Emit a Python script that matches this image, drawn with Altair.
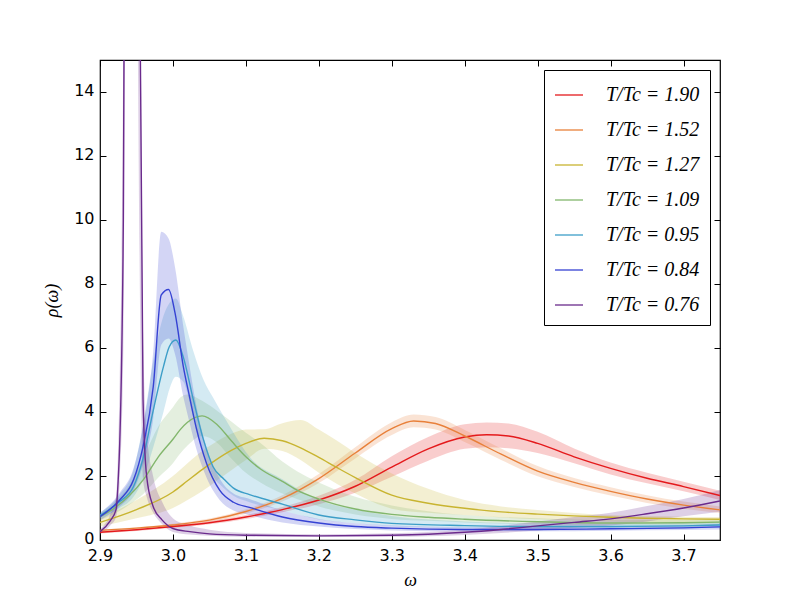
import altair as alt
import pandas as pd

labels = ["T/Tc = 1.90", "T/Tc = 1.52", "T/Tc = 1.27", "T/Tc = 1.09",
          "T/Tc = 0.95", "T/Tc = 0.84", "T/Tc = 0.76"]
colors = ["#e41a1c", "#e8803a", "#c8b430", "#82b66c", "#3d9ec8", "#3542d3", "#6a2a8c"]

x_ticks = [2.9, 3.0, 3.1, 3.2, 3.3, 3.4, 3.5, 3.6, 3.7]
y_ticks = [0, 2, 4, 6, 8, 10, 12, 14]

# T/Tc = 1.90
w_190 = [2.90, 2.95, 3.00, 3.05, 3.10, 3.15, 3.20, 3.25, 3.30, 3.35, 3.40, 3.43, 3.46, 3.50, 3.55, 3.60, 3.65, 3.70, 3.75]
m_190 = [0.24, 0.32, 0.42, 0.54, 0.72, 0.95, 1.25, 1.68, 2.28, 2.85, 3.22, 3.29, 3.25, 3.02, 2.60, 2.24, 1.93, 1.67, 1.39]
lo_190 = [0.20, 0.28, 0.38, 0.49, 0.66, 0.87, 1.12, 1.48, 1.98, 2.48, 2.85, 2.90, 2.87, 2.72, 2.40, 2.05, 1.77, 1.52, 1.25]
hi_190 = [0.28, 0.36, 0.46, 0.59, 0.78, 1.03, 1.38, 1.88, 2.62, 3.22, 3.62, 3.67, 3.64, 3.38, 2.86, 2.42, 2.10, 1.82, 1.54]

# T/Tc = 1.52
w_152 = [2.90, 2.95, 3.00, 3.05, 3.10, 3.15, 3.20, 3.25, 3.30, 3.33, 3.36, 3.40, 3.45, 3.50, 3.55, 3.60, 3.65, 3.70, 3.75]
m_152 = [0.30, 0.37, 0.47, 0.62, 0.89, 1.30, 1.92, 2.72, 3.48, 3.72, 3.64, 3.25, 2.68, 2.15, 1.80, 1.52, 1.28, 1.09, 0.94]
lo_152 = [0.27, 0.34, 0.43, 0.57, 0.82, 1.20, 1.78, 2.55, 3.28, 3.52, 3.45, 3.06, 2.50, 1.99, 1.66, 1.39, 1.16, 0.98, 0.84]
hi_152 = [0.33, 0.40, 0.51, 0.67, 0.96, 1.40, 2.06, 2.90, 3.68, 3.92, 3.84, 3.44, 2.86, 2.31, 1.94, 1.65, 1.40, 1.20, 1.05]

# T/Tc = 1.27
w_127 = [2.90, 2.95, 3.00, 3.02, 3.04, 3.06, 3.08, 3.10, 3.125, 3.15, 3.175, 3.20, 3.225, 3.25, 3.30, 3.35, 3.40, 3.45, 3.50, 3.60, 3.70, 3.75]
m_127 = [0.55, 0.95, 1.50, 1.85, 2.20, 2.52, 2.80, 3.02, 3.18, 3.10, 2.88, 2.58, 2.26, 1.95, 1.40, 1.15, 0.99, 0.88, 0.81, 0.71, 0.66, 0.65]
lo_127 = [0.42, 0.68, 1.00, 1.25, 1.52, 1.85, 2.18, 2.50, 2.85, 2.78, 2.50, 2.10, 1.75, 1.45, 0.98, 0.85, 0.78, 0.70, 0.65, 0.58, 0.55, 0.55]
hi_127 = [0.68, 1.25, 2.00, 2.40, 2.78, 3.08, 3.32, 3.45, 3.46, 3.65, 3.75, 3.45, 3.10, 2.72, 2.08, 1.60, 1.25, 1.05, 0.94, 0.78, 0.73, 0.72]

# T/Tc = 1.09
w_109 = [2.90, 2.92, 2.94, 2.96, 2.98, 3.00, 3.01, 3.02, 3.04, 3.06, 3.08, 3.10, 3.12, 3.15, 3.17, 3.20, 3.25, 3.30, 3.35, 3.40, 3.50, 3.60, 3.70, 3.75]
m_109 = [0.72, 1.00, 1.38, 1.90, 2.60, 3.15, 3.45, 3.68, 3.88, 3.62, 3.10, 2.60, 2.22, 1.83, 1.56, 1.28, 0.97, 0.80, 0.71, 0.65, 0.57, 0.53, 0.54, 0.56]
lo_109 = [0.62, 0.82, 1.10, 1.45, 1.95, 2.40, 2.70, 2.95, 3.25, 3.05, 2.55, 2.10, 1.80, 1.45, 1.28, 1.05, 0.80, 0.66, 0.60, 0.55, 0.49, 0.46, 0.46, 0.47]
hi_109 = [0.82, 1.18, 1.70, 2.60, 3.55, 4.15, 4.45, 4.55, 4.35, 4.05, 3.70, 3.35, 3.03, 2.45, 2.15, 1.80, 1.35, 1.08, 0.90, 0.78, 0.68, 0.62, 0.63, 0.66]

# T/Tc = 0.95
w_095 = [2.90, 2.927, 2.946, 2.959, 2.973, 2.987, 2.995, 3.004, 3.014, 3.028, 3.042, 3.055, 3.07, 3.083, 3.105, 3.15, 3.20, 3.25, 3.30, 3.40, 3.50, 3.60, 3.70, 3.75]
m_095 = [0.77, 1.20, 1.67, 2.55, 4.05, 5.42, 6.04, 6.25, 5.73, 4.38, 3.12, 2.29, 1.90, 1.62, 1.42, 1.12, 0.78, 0.63, 0.52, 0.45, 0.42, 0.42, 0.44, 0.47]
lo_095 = [0.68, 1.00, 1.35, 1.90, 2.90, 4.00, 4.70, 5.10, 4.95, 3.85, 2.75, 2.00, 1.62, 1.38, 1.18, 0.92, 0.64, 0.52, 0.44, 0.38, 0.36, 0.36, 0.37, 0.39]
hi_095 = [0.86, 1.42, 2.20, 3.60, 5.60, 7.00, 7.40, 7.55, 7.00, 5.90, 5.00, 4.45, 3.85, 3.35, 2.60, 1.90, 1.25, 0.95, 0.75, 0.58, 0.52, 0.51, 0.54, 0.58]

# T/Tc = 0.84
w_084 = [2.90, 2.927, 2.946, 2.959, 2.973, 2.984, 2.994, 3.003, 3.014, 3.023, 3.032, 3.046, 3.064, 3.083, 3.105, 3.15, 3.20, 3.25, 3.30, 3.40, 3.50, 3.60, 3.70, 3.75]
m_084 = [0.73, 1.25, 1.88, 2.92, 4.79, 7.66, 7.83, 7.08, 5.45, 4.45, 3.50, 2.40, 1.56, 1.18, 1.02, 0.72, 0.53, 0.42, 0.37, 0.33, 0.33, 0.35, 0.38, 0.41]
lo_084 = [0.62, 1.05, 1.55, 2.35, 3.80, 6.10, 6.30, 5.80, 4.50, 3.65, 2.85, 1.95, 1.25, 0.92, 0.78, 0.55, 0.42, 0.34, 0.30, 0.27, 0.27, 0.29, 0.31, 0.33]
hi_084 = [0.84, 1.48, 2.25, 3.55, 5.90, 9.63, 9.42, 8.50, 6.70, 5.40, 4.20, 2.90, 1.92, 1.45, 1.28, 0.92, 0.66, 0.52, 0.45, 0.40, 0.40, 0.42, 0.46, 0.50]

# T/Tc = 0.76
w_076 = [2.900, 2.914, 2.922, 2.925, 2.927, 2.932, 2.937, 2.945, 2.952, 2.959, 2.964, 2.973, 2.985, 3.000, 3.023, 3.05, 3.10, 3.20, 3.30, 3.35, 3.40, 3.45, 3.50, 3.55, 3.60, 3.65, 3.70, 3.75]
m_076 = [0.26, 0.60, 0.95, 1.90, 3.00, 10.0, 40.0, 60.0, 25.0, 4.40, 1.98, 1.04, 0.63, 0.36, 0.26, 0.19, 0.15, 0.13, 0.15, 0.18, 0.24, 0.33, 0.44, 0.55, 0.66, 0.82, 1.00, 1.22]
lo_076 = [0.18, 0.45, 0.72, 1.20, 1.80, 6.0, 30.0, 45.0, 15.0, 1.90, 1.35, 0.85, 0.50, 0.25, 0.17, 0.13, 0.10, 0.09, 0.10, 0.12, 0.16, 0.22, 0.30, 0.38, 0.45, 0.58, 0.74, 0.88]
hi_076 = [0.34, 0.80, 1.35, 3.00, 5.00, 16.0, 50.0, 75.0, 35.0, 6.50, 3.40, 1.98, 1.20, 0.68, 0.45, 0.32, 0.22, 0.18, 0.21, 0.25, 0.32, 0.44, 0.58, 0.72, 0.85, 1.06, 1.28, 1.56]

series = [
    (labels[0], w_190, m_190, lo_190, hi_190),
    (labels[1], w_152, m_152, lo_152, hi_152),
    (labels[2], w_127, m_127, lo_127, hi_127),
    (labels[3], w_109, m_109, lo_109, hi_109),
    (labels[4], w_095, m_095, lo_095, hi_095),
    (labels[5], w_084, m_084, lo_084, hi_084),
    (labels[6], w_076, m_076, lo_076, hi_076),
]
rows = []
for k, (lab, ws, ms, ls, hs) in enumerate(series):
    for w, m, l, h in zip(ws, ms, ls, hs):
        rows.append({"series": lab, "order": k, "w": w, "m": m, "lo": l, "hi": h})
df = pd.DataFrame(rows)

xs = alt.Scale(domain=[2.9, 3.75], nice=False, zero=False)
ys = alt.Scale(domain=[0, 15], nice=False)
cs = alt.Scale(domain=labels, range=colors)

legend = alt.Legend(
    title=None, orient="top-right", offset=10,
    strokeColor="black", fillColor="white", padding=10,
    symbolType="stroke", symbolSize=784, symbolStrokeWidth=1.3,
    symbolOpacity=1, rowPadding=10, labelFont="Liberation Serif",
    labelFontStyle="italic", labelFontSize=20, labelColor="black",
    labelOffset=22, cornerRadius=0)

base = alt.Chart(df)

bands = base.mark_area(opacity=0.22, clip=True, interpolate="monotone").encode(
    x=alt.X("w:Q", scale=xs, axis=None),
    y=alt.Y("lo:Q", scale=ys, axis=None),
    y2="hi:Q",
    color=alt.Color("series:N", scale=cs, legend=legend),
)

lines = base.mark_line(strokeWidth=1.4, clip=True, interpolate="monotone").encode(
    x=alt.X("w:Q", scale=xs, axis=alt.Axis(
        orient="bottom", values=x_ticks, format=".1f", title="ω",
        offset=-6, tickSize=6, domain=False, grid=False, labelFlush=False,
        labelOverlap=False, labelFont="DejaVu Sans", labelFontSize=16,
        labelColor="black", tickColor="black", labelPadding=7,
        titleFont="Liberation Serif", titleFontStyle="italic",
        titleFontSize=18, titleFontWeight="normal", titleColor="black",
        titlePadding=8)),
    y=alt.Y("m:Q", scale=ys, axis=alt.Axis(
        orient="left", values=y_ticks, format="d", title="ρ(ω)",
        offset=-6, tickSize=6, domain=False, grid=False,
        labelOverlap=False, labelFont="DejaVu Sans", labelFontSize=16,
        labelColor="black", tickColor="black", labelPadding=6,
        labelOffset=-2,
        titleFont="Liberation Serif", titleFontStyle="italic",
        titleFontSize=18, titleFontWeight="normal", titleColor="black",
        titlePadding=12)),
    color=alt.Color("series:N", scale=cs, legend=legend),
    order="order:Q",
)

frame_ticks = base.mark_line(opacity=0).encode(
    x=alt.X("w:Q", scale=xs, axis=alt.Axis(
        orient="top", values=x_ticks, labels=False, title=None,
        offset=-6, tickSize=6, domain=False, grid=False, tickColor="black")),
    y=alt.Y("m:Q", scale=ys, axis=alt.Axis(
        orient="right", values=y_ticks, labels=False, title=None,
        offset=-6, tickSize=6, domain=False, grid=False, tickColor="black")),
    detail="series:N",
)

chart = alt.layer(bands, lines, frame_ticks).resolve_axis(
    x="independent", y="independent"
).properties(
    width=620, height=480,
    autosize=alt.AutoSizeParams(type="none"),
    padding={"left": 92, "top": 52, "right": 60, "bottom": 50},
).configure_view(stroke="black", strokeWidth=1.2)

chart.save("out.html", embed_options={"renderer": "svg", "actions": False})
